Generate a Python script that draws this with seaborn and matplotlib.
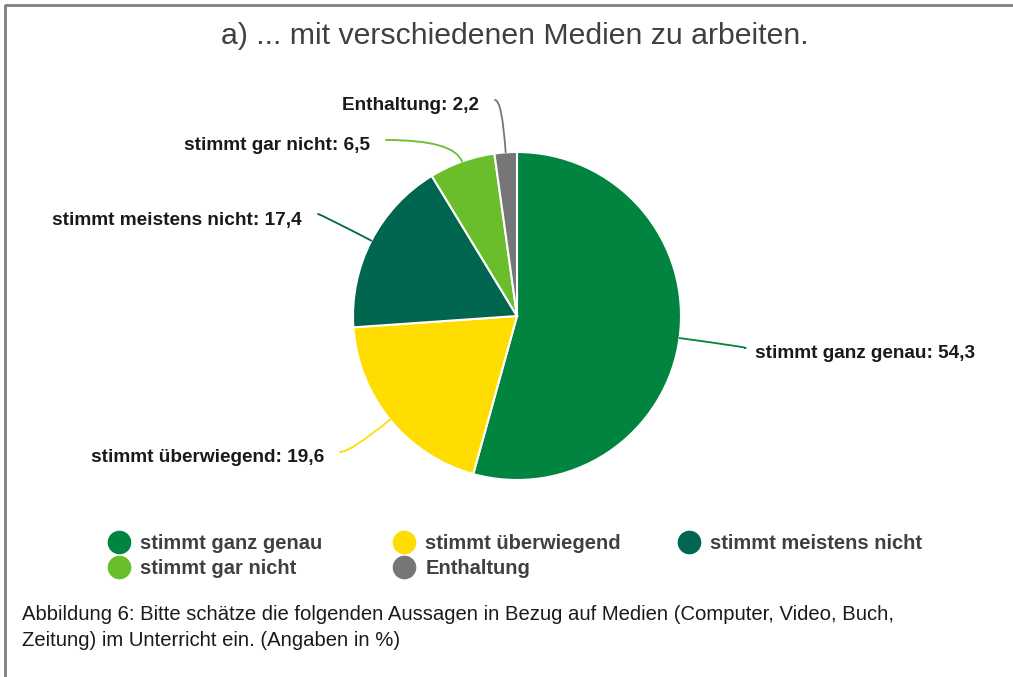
import matplotlib.pyplot as plt
import seaborn as sns
from matplotlib.lines import Line2D
import numpy as np

categories = ['stimmt ganz genau', 'stimmt überwiegend', 'stimmt meistens nicht',
              'stimmt gar nicht', 'Enthaltung']
values = [54.3, 19.6, 17.4, 6.5, 2.2]
colors = ['#00843f', '#ffdd00', '#00664f', '#6abd2b', '#767676']

# label layout (pixel positions for the text end of each leader line)
label_pos = [(745, 348), (340, 452), (318, 214), (386, 140), (495, 100)]
label_ha = ['left', 'right', 'right', 'right', 'right']

sns.set_theme(style='white')
plt.rcParams['font.family'] = ['Liberation Sans', 'DejaVu Sans']

W, H = 1013, 677
fig = plt.figure(figsize=(W / 100, H / 100), dpi=100)
ax = fig.add_axes([0, 0, 1, 1])


def Y(y):
    return H - y


cx, cy, r = 517, Y(316), 164
wedges, _ = ax.pie(values, colors=colors, startangle=90, counterclock=False,
                   center=(cx, cy), radius=r, frame=True,
                   wedgeprops=dict(edgecolor='white', linewidth=1.5))
ax.set_xlim(0, W)
ax.set_ylim(0, H)
ax.axis('off')

for w, cat, val, col, (lx, ly), ha in zip(wedges, categories, values, colors, label_pos, label_ha):
    mid = np.deg2rad((w.theta1 + w.theta2) / 2)
    ex = w.center[0] + w.r * np.cos(mid)
    ey = w.center[1] + w.r * np.sin(mid)
    ax.annotate('', xy=(ex, ey), xytext=(lx, Y(ly)),
                arrowprops=dict(arrowstyle='-', color=col, lw=1.3, shrinkA=0, shrinkB=0,
                                connectionstyle='angle3,angleA=0,angleB=%.1f' % np.rad2deg(mid)))
    tx = lx + 10 if ha == 'left' else lx - 16
    ax.text(tx, Y(ly + 6), f'{cat}: {str(val).replace(".", ",")}', ha=ha, va='center',
            fontsize=13.7, fontweight='bold', color='#1a1a1a')

fig.text(515 / W, 1 - 36 / H, 'a) ... mit verschiedenen Medien zu arbeiten.',
         ha='center', va='center', fontsize=21.8, color='#404040')

# legend laid out row-wise in three columns
handles = [Line2D([], [], marker='o', linestyle='', markersize=16, color=c) for c in colors]
col_x = [107, 392, 677]
for j in range(3):
    idx = [i for i in range(len(categories)) if i % 3 == j]
    fig.legend([handles[i] for i in idx], [categories[i] for i in idx], loc='upper left',
               bbox_to_anchor=(col_x[j] / W, 1 - 534 / H), frameon=False,
               prop=dict(size=14.5, weight='bold'), labelcolor='#404040',
               handletextpad=0.45, labelspacing=0.3, handlelength=1.2,
               borderpad=0, borderaxespad=0)

fig.text(22 / W, 1 - 615 / H,
         'Abbildung 6: Bitte schätze die folgenden Aussagen in Bezug auf Medien (Computer, Video, Buch,',
         ha='left', va='center', fontsize=14.6, color='#1a1a1a')
fig.text(22 / W, 1 - 640 / H, 'Zeitung) im Unterricht ein. (Angaben in %)',
         ha='left', va='center', fontsize=14.6, color='#1a1a1a')

fig.add_artist(Line2D([5 / W, 5 / W, 1], [0, 1 - 5 / H, 1 - 5 / H], color='#808080', lw=2))

fig.savefig('out.png', dpi=100)
